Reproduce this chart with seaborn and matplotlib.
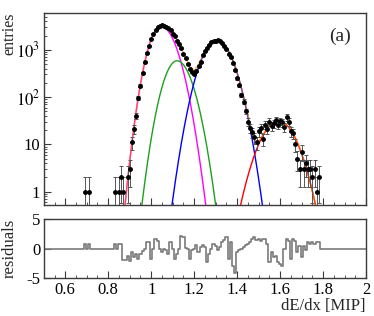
import numpy as np
import matplotlib
matplotlib.use("Agg")
import matplotlib.pyplot as plt
import matplotlib.ticker as mticker
import seaborn as sns

# measured dE/dx spectrum: bin centre [MIP] and entries
low_x = [0.69, 0.71, 0.83, 0.85, 0.86, 0.87, 0.89, 0.90]
low_n = [1, 1, 1, 1, 2, 1, 2, 3]
main_start = 0.91
main_n = [11, 21, 40, 95, 175, 320, 550, 860, 1230, 1700,
          2190, 2650, 2980, 3240, 3300, 3180, 3060, 2830, 2600, 2190,
          1960, 1560, 1300, 1090, 820, 660, 510, 400, 335, 310,
          360, 460, 560, 780, 930, 1110, 1290, 1450, 1530, 1560,
          1580, 1520, 1400, 1230, 1050, 800, 700, 530, 370, 250,
          180, 110, 80, 50, 30, 22, 18, 14, 11, 19,
          22, 13, 26, 21, 30, 24, 28, 33, 26, 31,
          29, 23, 37, 30, 19, 17, 10, 5, 3, 7,
          3, 4, 3, 3, 2, 3, 1, 2]

# fitted peaks: amplitude, mean, sigma left, sigma right
peak_colors = ["#ff00ff", "#1ca01c", "#0000ff", "#ff0000"]
peak_amp = [3150, 585, 1600, 31]
peak_mean = [1.045, 1.12, 1.305, 1.593]
peak_sig_l = [0.040, 0.0436, 0.052, 0.062]
peak_sig_r = [0.050, 0.048, 0.053, 0.060]

# residuals per bin
res_early = {0.69: 0.85, 0.71: 0.85}
res_start = 0.83
res_vals = [0.7, 0.0, 0.7, 0.7, -2.0, -2.0, -1.2, -2.1, -0.6, -1.4,
            -1.0, -1.7, -0.9, -0.5, 0.0, 1.1, 1.1, -1.7, 0.0, 1.6,
            1.3, -0.1, -0.6, 0.0, -0.3, -0.9, 1.1, 0.0, -1.7, -0.9,
            0.0, 2.2, 1.9, 0.1, -0.1, -1.7, -0.3, 0.0, 0.6, -0.6,
            0.2, 0.6, 0.3, -2.2, -0.9, 0.0, 0.8, 0.5, -0.3, 0.2,
            1.1, 1.4, 1.9, -1.7, 1.1, -3.0, -4.2, -0.6, -0.3, 0.0,
            0.3, 0.6, 0.8, 1.1, 1.6, 1.9, 1.4, 1.6, 1.2, 1.6,
            1.6, 0.8, -2.3, -0.6, -1.5, -1.2, -2.3, -2.6, -2.9, 0.0,
            1.6, 1.35, -1.75, 1.6, 1.35, -0.6, 0.5, -1.5, 0.5, -0.3,
            1.1, 0.8, 1.1, 0.8, 1.1, 1.1, 0.0, 0.0]

sns.set_theme(style="ticks")
plt.rcParams["font.family"] = ["Liberation Serif", "DejaVu Serif"]
plt.rcParams["mathtext.fontset"] = "stix"
plt.rcParams["axes.unicode_minus"] = False
frame = "#3a3a3a"

fig = plt.figure(figsize=(3.74, 3.16), dpi=100)
ax1 = fig.add_axes([0.117, 0.351, 0.862, 0.608])
ax2 = fig.add_axes([0.117, 0.120, 0.862, 0.187])

# data points
x_main = np.round(main_start + np.arange(len(main_n)) / 100, 2)
x_all = np.concatenate([low_x, x_main])
n_all = np.concatenate([low_n, main_n]).astype(float)
err = np.sqrt(n_all)
err_lo = np.minimum(err, n_all - 1e-4)

# fit curves
xf = np.linspace(0.5, 2.0, 1200)
total = np.zeros_like(xf)
for c, a, m, sl, sr in zip(peak_colors, peak_amp, peak_mean, peak_sig_l, peak_sig_r):
    s = np.where(xf < m, sl, sr)
    y = a * np.exp(-0.5 * ((xf - m) / s) ** 2)
    total += y
    sns.lineplot(x=xf, y=np.clip(y, 1e-3, None), ax=ax1, color=c, lw=1.0)
sns.lineplot(x=xf, y=total, ax=ax1, color="#ff8000", lw=1.2, alpha=0.55)

ax1.errorbar(x_all, n_all, yerr=[err_lo, err], fmt="o", ms=2.5, color="black",
             ecolor="#555555", elinewidth=0.7, capsize=1.2, capthick=0.7, zorder=5)

ax1.set_yscale("log")
ax1.set_xlim(0.5, 2.0)
ax1.set_ylim(0.52, 6000)
ax1.yaxis.set_major_locator(mticker.FixedLocator([1, 10, 100, 1000]))
ax1.yaxis.set_major_formatter(mticker.FixedFormatter(["1", "10", "$10^2$", "$10^3$"]))
ax1.yaxis.set_minor_locator(mticker.LogLocator(base=10, subs=np.arange(2, 10)))
ax1.yaxis.set_minor_formatter(mticker.NullFormatter())
ax1.xaxis.set_major_locator(mticker.MultipleLocator(0.2))
ax1.xaxis.set_minor_locator(mticker.MultipleLocator(0.05))
ax1.tick_params(axis="x", labelbottom=False)
ax1.set_xlabel("")
ax1.set_ylabel("")
ax1.text(0.92, 0.88, "(a)", transform=ax1.transAxes, ha="center", va="center", fontsize=14)

# residuals
bins = np.round(np.arange(50, 201) / 100, 2)
res = np.zeros(len(bins))
for k, v in res_early.items():
    res[np.argmin(np.abs(bins - k))] = v
i0 = int(np.argmin(np.abs(bins - res_start)))
res[i0:i0 + len(res_vals)] = res_vals
ax2.step(bins, res, where="mid", color="#7a7a7a", lw=1.2)
ax2.set_xlim(0.5, 2.0)
ax2.set_ylim(-5, 5)
ax2.yaxis.set_major_locator(mticker.FixedLocator([-5, 0, 5]))
ax2.yaxis.set_major_formatter(mticker.FixedFormatter(["-5", "0", "5"]))
ax2.xaxis.set_major_locator(mticker.MultipleLocator(0.2))
ax2.xaxis.set_minor_locator(mticker.MultipleLocator(0.05))
ax2.xaxis.set_major_formatter(mticker.FuncFormatter(lambda v, p: f"{v:g}"))

for ax in (ax1, ax2):
    ax.tick_params(which="both", direction="in", colors=frame, labelcolor="black",
                   labelsize=12, top=False, right=False, pad=2.5)
    ax.tick_params(which="major", length=5, width=0.8)
    ax.tick_params(which="minor", length=2.5, width=0.6)
    for sp in ax.spines.values():
        sp.set_visible(True)
        sp.set_color(frame)
        sp.set_linewidth(1.0)

fig.text(0.026, 0.962, "entries", rotation=90, ha="center", va="top", fontsize=11.5)
fig.text(0.027, 0.215, "residuals", rotation=90, ha="center", va="center", fontsize=12)
fig.text(0.976, 0.032, "dE/dx [MIP]", ha="right", va="center", fontsize=12)

fig.savefig("out.png", dpi=100)
